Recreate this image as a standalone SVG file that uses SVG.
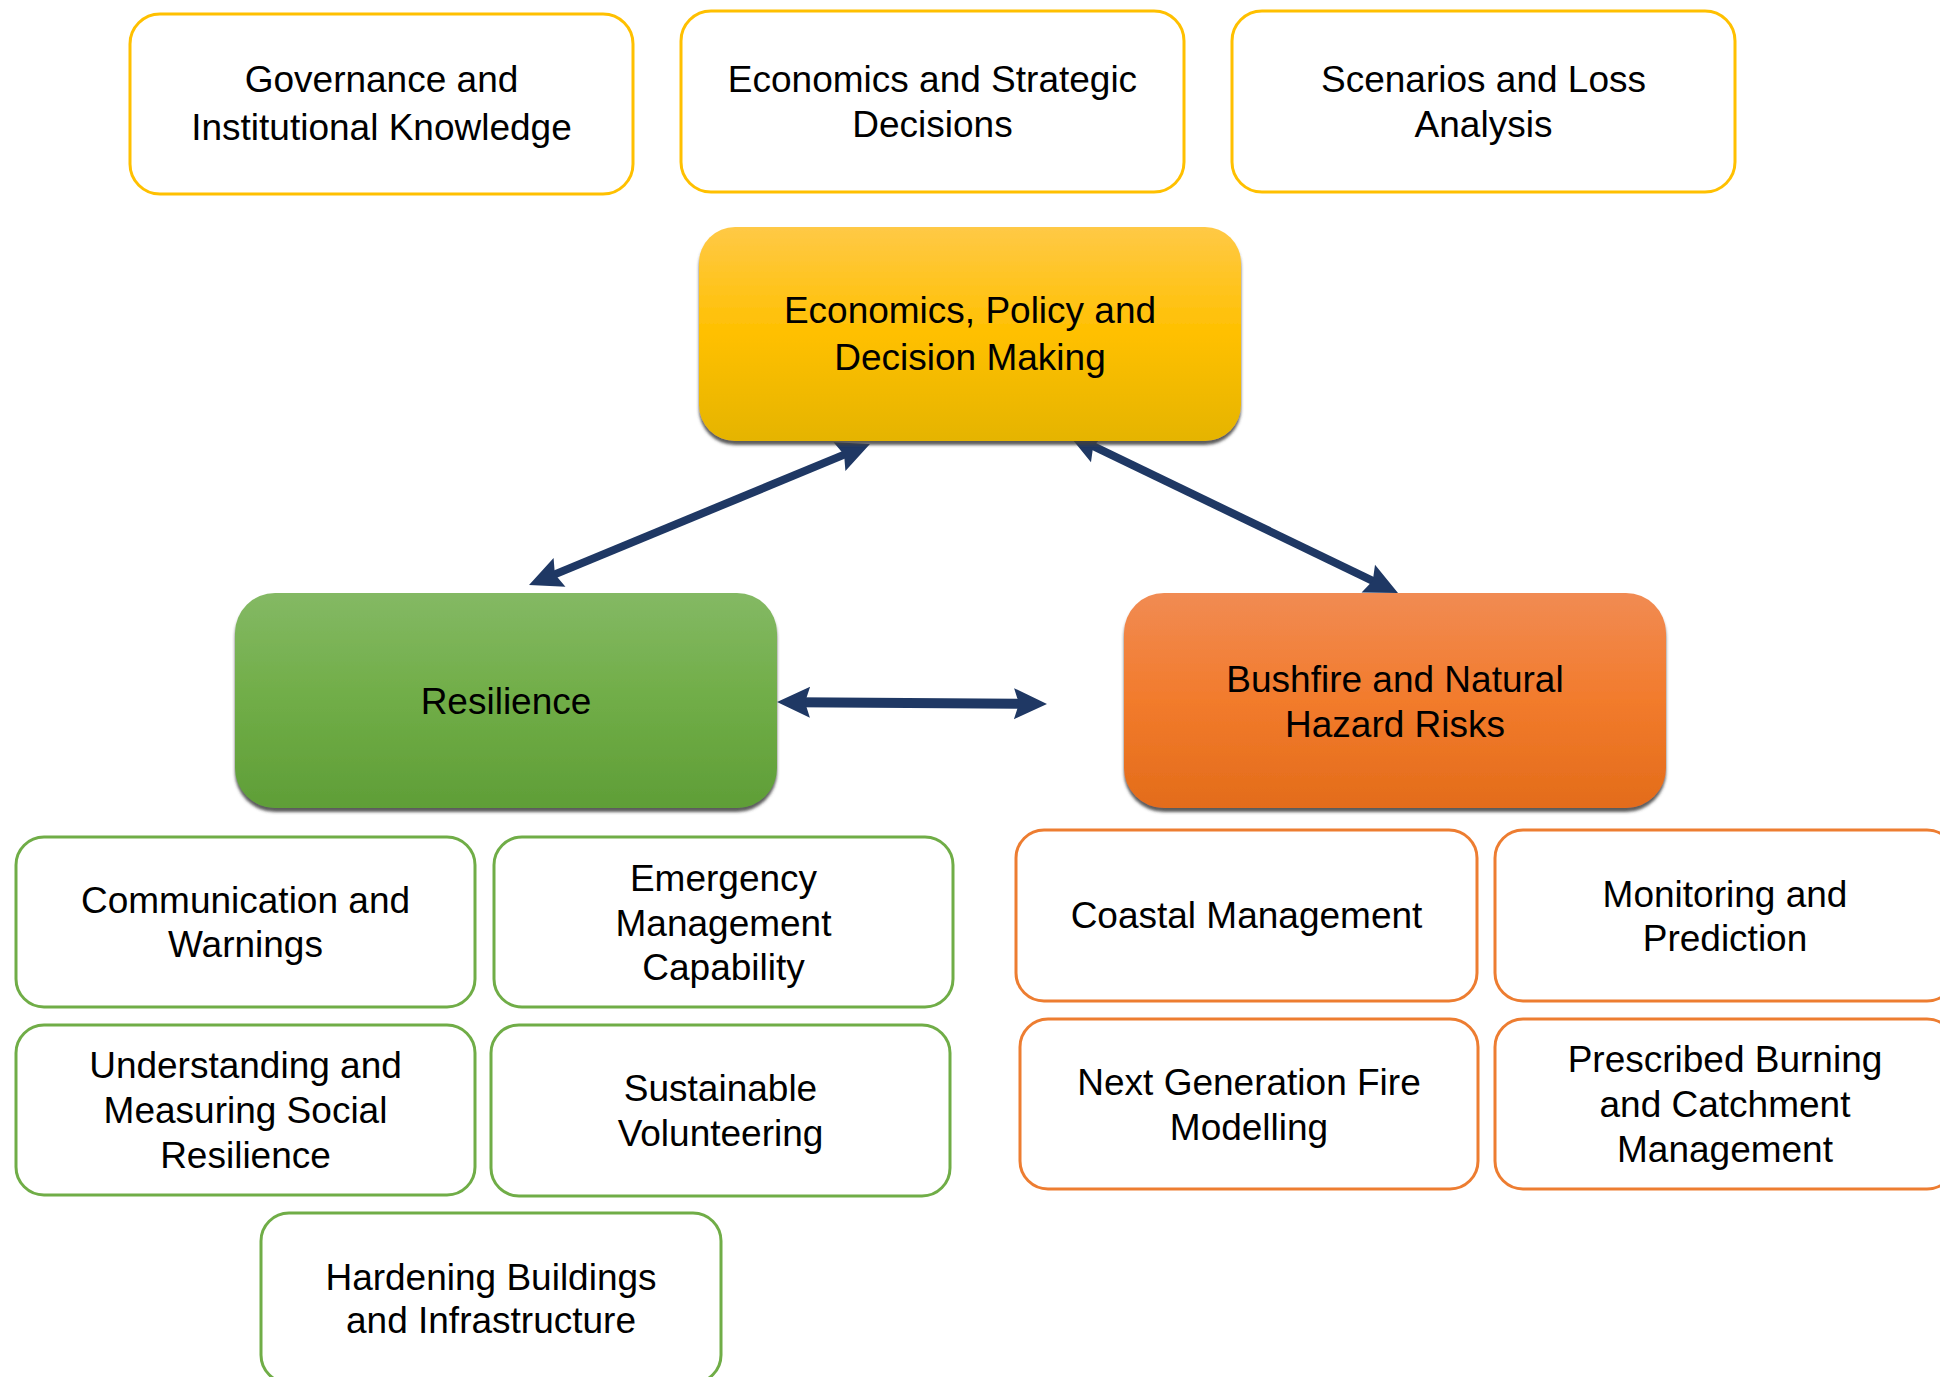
<svg xmlns="http://www.w3.org/2000/svg" width="1940" height="1377" viewBox="0 0 1940 1377">
<defs>
  <linearGradient id="gGold" x1="0" y1="0" x2="0" y2="1">
    <stop offset="0" stop-color="#FFC946"/>
    <stop offset="0.5" stop-color="#FFC000"/>
    <stop offset="1" stop-color="#E5B400"/>
  </linearGradient>
  <linearGradient id="gGreen" x1="0" y1="0" x2="0" y2="1">
    <stop offset="0" stop-color="#84B964"/>
    <stop offset="0.5" stop-color="#70AD47"/>
    <stop offset="1" stop-color="#5F9E37"/>
  </linearGradient>
  <linearGradient id="gOrange" x1="0" y1="0" x2="0" y2="1">
    <stop offset="0" stop-color="#F18B53"/>
    <stop offset="0.5" stop-color="#F27B2C"/>
    <stop offset="1" stop-color="#E36C1A"/>
  </linearGradient>
  <filter id="shadow" x="-5%" y="-5%" width="110%" height="115%">
    <feDropShadow dx="0" dy="4" stdDeviation="1.5" flood-color="#404040" flood-opacity="0.85"/>
  </filter>
  <marker id="head" markerUnits="userSpaceOnUse" viewBox="-36 -18 40 36" markerWidth="40" markerHeight="36" refX="-20" refY="0" orient="auto-start-reverse">
    <path d="M0,0 L-33,-15.5 L-28,0 L-33,15.5 Z" fill="#1F3864"/>
  </marker>
  <style>
    .t { font-family: "Liberation Sans", Arial, sans-serif; font-size: 37px; fill: #000; text-anchor: middle; }
    .gold { fill: #fff; stroke: #FFC000; stroke-width: 3; }
    .green { fill: #fff; stroke: #70AD47; stroke-width: 3; }
    .orange { fill: #fff; stroke: #ED7D31; stroke-width: 3; }
    .conn { stroke: #1F3864; fill: none; marker-start: url(#head); marker-end: url(#head); }
  </style>
</defs>
<rect width="1940" height="1377" fill="#fff"/>

<g id="connectors">
  <line class="conn" x1="851.5" y1="451.6" x2="547.5" y2="577.4" stroke-width="8"/>
  <line class="conn" x1="1086" y1="442.7" x2="1380" y2="584.3" stroke-width="8"/>
  <line class="conn" x1="797" y1="702.2" x2="1027" y2="703.8" stroke-width="10"/>
</g>

<g id="gov">
  <rect class="gold" x="130" y="14" width="503" height="180" rx="30"/>
  <text class="t" x="381.5" y="92">Governance and</text>
  <text class="t" x="381.5" y="140">Institutional Knowledge</text>
</g>
<g id="econStrategic">
  <rect class="gold" x="681" y="11" width="503" height="181" rx="30"/>
  <text class="t" x="932.5" y="92">Economics and Strategic</text>
  <text class="t" x="932.5" y="137">Decisions</text>
</g>
<g id="scenarios">
  <rect class="gold" x="1232" y="11" width="503" height="181" rx="30"/>
  <text class="t" x="1483.5" y="92">Scenarios and Loss</text>
  <text class="t" x="1483.5" y="137">Analysis</text>
</g>

<g id="econPolicy">
  <rect x="699" y="227" width="542" height="214" rx="36" fill="url(#gGold)" filter="url(#shadow)"/>
  <text class="t" x="970" y="323">Economics, Policy and</text>
  <text class="t" x="970" y="370">Decision Making</text>
</g>
<g id="resilience">
  <rect x="235" y="593" width="542" height="215" rx="40" fill="url(#gGreen)" filter="url(#shadow)"/>
  <text class="t" x="506" y="714">Resilience</text>
</g>
<g id="bushfire">
  <rect x="1124" y="593" width="542" height="215" rx="40" fill="url(#gOrange)" filter="url(#shadow)"/>
  <text class="t" x="1395" y="692">Bushfire and Natural</text>
  <text class="t" x="1395" y="737">Hazard Risks</text>
</g>

<g id="communication">
  <rect class="green" x="16" y="837" width="459" height="170" rx="28"/>
  <text class="t" x="245.5" y="913">Communication and</text>
  <text class="t" x="245.5" y="957">Warnings</text>
</g>
<g id="emergency">
  <rect class="green" x="494" y="837" width="459" height="170" rx="28"/>
  <text class="t" x="723.5" y="891">Emergency</text>
  <text class="t" x="723.5" y="936">Management</text>
  <text class="t" x="723.5" y="980">Capability</text>
</g>
<g id="understanding">
  <rect class="green" x="16" y="1025" width="459" height="170" rx="28"/>
  <text class="t" x="245.5" y="1078">Understanding and</text>
  <text class="t" x="245.5" y="1123">Measuring Social</text>
  <text class="t" x="245.5" y="1168">Resilience</text>
</g>
<g id="sustainable">
  <rect class="green" x="491" y="1025" width="459" height="171" rx="28"/>
  <text class="t" x="720.5" y="1101">Sustainable</text>
  <text class="t" x="720.5" y="1146">Volunteering</text>
</g>
<g id="hardening">
  <rect class="green" x="261" y="1213" width="460" height="170" rx="28"/>
  <text class="t" x="491" y="1290">Hardening Buildings</text>
  <text class="t" x="491" y="1333">and Infrastructure</text>
</g>

<g id="coastal">
  <rect class="orange" x="1016" y="830" width="461" height="171" rx="28"/>
  <text class="t" x="1246.5" y="928">Coastal Management</text>
</g>
<g id="monitoring">
  <rect class="orange" x="1495" y="830" width="460" height="171" rx="28"/>
  <text class="t" x="1725" y="907">Monitoring and</text>
  <text class="t" x="1725" y="951">Prediction</text>
</g>
<g id="nextgen">
  <rect class="orange" x="1020" y="1019" width="458" height="170" rx="28"/>
  <text class="t" x="1249" y="1095">Next Generation Fire</text>
  <text class="t" x="1249" y="1140">Modelling</text>
</g>
<g id="prescribed">
  <rect class="orange" x="1495" y="1019" width="460" height="170" rx="28"/>
  <text class="t" x="1725" y="1072">Prescribed Burning</text>
  <text class="t" x="1725" y="1117">and Catchment</text>
  <text class="t" x="1725" y="1162">Management</text>
</g>
</svg>
